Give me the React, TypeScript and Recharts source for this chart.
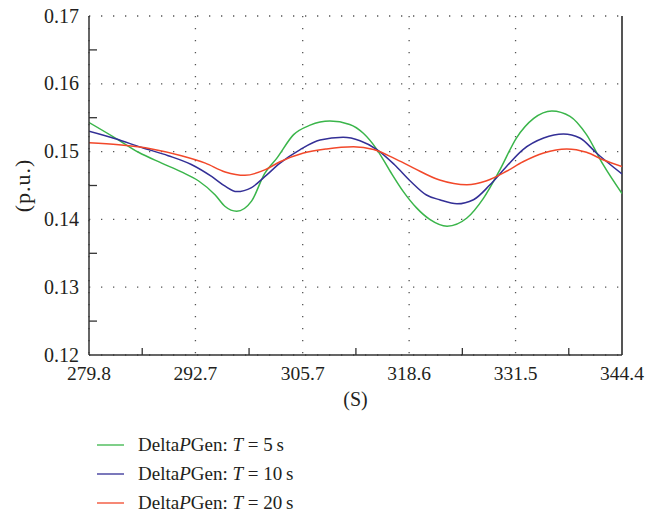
import React from 'react'
import { LineChart, Line, XAxis, YAxis, CartesianGrid, ReferenceLine, Label } from 'recharts'

// readings taken off the plot: time (s) and value (p.u.)
const timesT5 = [279.8, 283.0, 285.8, 288.6, 291.0, 293.05, 295.1, 296.3, 297.7, 299.5, 301.1, 302.55, 304.6, 306.6, 309.0, 311.4, 313.05, 314.7, 316.3, 317.9, 319.5, 321.1, 323.2, 325.6, 327.6, 329.6, 331.6, 333.7, 335.9, 338.1, 340.1, 342.1, 344.4]
const valuesT5 = [0.1543, 0.152, 0.1499, 0.1483, 0.147, 0.1457, 0.1436, 0.1419, 0.1412, 0.1427, 0.1468, 0.149, 0.1525, 0.1539, 0.1545, 0.154, 0.1527, 0.1503, 0.1471, 0.1441, 0.1417, 0.14, 0.139, 0.1402, 0.1431, 0.1473, 0.152, 0.1549, 0.156, 0.1552, 0.1525, 0.1481, 0.1438]

const timesT10 = [279.8, 283.0, 286.2, 289.4, 292.2, 294.7, 296.3, 297.7, 299.5, 301.1, 302.95, 305.4, 307.8, 310.6, 312.65, 314.7, 316.8, 318.8, 320.7, 322.3, 324.4, 326.4, 328.4, 330.4, 332.4, 334.9, 337.3, 339.3, 341.3, 344.4]
const valuesT10 = [0.153, 0.1519, 0.1506, 0.1494, 0.1481, 0.1463, 0.1449, 0.1441, 0.1447, 0.1463, 0.1483, 0.1503, 0.1517, 0.1521, 0.1516, 0.1503, 0.1481, 0.1456, 0.1436, 0.1429, 0.1423, 0.1429, 0.1451, 0.1478, 0.1503, 0.152, 0.1526, 0.152, 0.1498, 0.1467]

const timesT20 = [279.8, 283.4, 287.4, 291.0, 293.9, 296.3, 298.7, 301.1, 302.95, 305.8, 308.6, 311.85, 314.3, 316.8, 319.1, 322.3, 325.6, 328.0, 330.4, 332.4, 334.9, 337.7, 340.1, 342.1, 344.4]
const valuesT20 = [0.1513, 0.151, 0.1504, 0.1494, 0.1483, 0.147, 0.1465, 0.1473, 0.1485, 0.1498, 0.1504, 0.1507, 0.1503, 0.149, 0.1476, 0.1458, 0.1451, 0.1457, 0.1471, 0.1485, 0.1498, 0.1504, 0.1499, 0.1488, 0.1478]

const xMajorTicks = [279.8, 292.7, 305.7, 318.6, 331.5, 344.4]
const xMinorTicks = [286.25, 299.2, 312.15, 325.05, 337.95]
const yMajorTicks = [0.12, 0.13, 0.14, 0.15, 0.16, 0.17]
const yMinorTicks = [0.125, 0.135, 0.145, 0.155, 0.165]

const periods = ['5', '10', '20']
const colors = ['#3ab54a', '#332f96', '#f2482a']

const toRows = (ts: number[], vs: number[]) => ts.map((t, i) => ({ t, v: vs[i] }))
const series = [
  toRows(timesT5, valuesT5),
  toRows(timesT10, valuesT10),
  toRows(timesT20, valuesT20),
]

const FONT = '"Liberation Serif", "Times New Roman", serif'
const INK = '#231f20'
const AXIS = '#333'

const isMajor = (v: number, majors: number[]) => majors.some((m) => Math.abs(m - v) < 1e-6)

const XTick = (props: any) => {
  const { x, y, payload } = props
  if (isMajor(payload.value, xMajorTicks)) {
    return (
      <text x={x} y={y + 25} textAnchor="middle" fontFamily={FONT} fontSize={19.5} fill={INK}>
        {payload.value.toFixed(1)}
      </text>
    )
  }
  return <line x1={x} x2={x} y1={y} y2={y - 7} stroke={AXIS} strokeWidth={1.3} />
}

const YTick = (props: any) => {
  const { x, y, payload } = props
  if (isMajor(payload.value, yMajorTicks)) {
    return (
      <text x={x - 10} y={y + 6.5} textAnchor="end" fontFamily={FONT} fontSize={20} fill={INK}>
        {payload.value.toFixed(2)}
      </text>
    )
  }
  return <line x1={x} x2={x + 8} y1={y} y2={y} stroke={AXIS} strokeWidth={1.3} />
}

const YTitle = (props: any) => {
  const { viewBox } = props
  const cx = 22
  const cy = viewBox.y + viewBox.height / 2
  return (
    <text x={cx} y={cy} transform={`rotate(-90 ${cx} ${cy})`} textAnchor="middle" dominantBaseline="central" fontFamily={FONT} fontSize={22} letterSpacing={1} fill={INK}>
      (p.u.)
    </text>
  )
}

const App = () => {
  return (
    <div style={{ position: 'absolute', left: 0, top: 0, width: 659, height: 513, background: '#fff' }}>
      <LineChart width={659} height={420} margin={{ top: 16, right: 37, bottom: 0, left: 0 }}>
        <CartesianGrid
          horizontalValues={yMajorTicks}
          verticalValues={xMajorTicks}
          stroke="#555"
          strokeWidth={1.3}
          strokeDasharray="1.3 10.7"
        />
        <XAxis
          dataKey="t"
          type="number"
          domain={[279.8, 344.4]}
          ticks={[...xMajorTicks, ...xMinorTicks].sort((a, b) => a - b)}
          allowDataOverflow
          height={65}
          tickSize={0}
          tickMargin={0}
          tickLine={false}
          axisLine={{ stroke: AXIS, strokeWidth: 1.5 }}
          tick={<XTick />}
          interval={0}
        >
          <Label value="(S)" position="insideBottom" offset={14} style={{ fontFamily: FONT, fontSize: 20, fill: INK }} />
        </XAxis>
        <YAxis
          type="number"
          domain={[0.12, 0.17]}
          ticks={[...yMajorTicks, ...yMinorTicks].sort((a, b) => a - b)}
          allowDataOverflow
          width={89}
          tickSize={0}
          tickMargin={0}
          tickLine={false}
          axisLine={{ stroke: AXIS, strokeWidth: 1.5 }}
          tick={<YTick />}
          interval={0}
        >
          <Label content={<YTitle />} />
        </YAxis>
        <ReferenceLine x={344.4} stroke="#555" strokeWidth={2} />
        {series.map((rows, i) => (
          <Line
            key={periods[i]}
            data={rows}
            dataKey="v"
            type="monotone"
            stroke={colors[i]}
            strokeWidth={1.5}
            dot={false}
            isAnimationActive={false}
          />
        ))}
      </LineChart>
      <div style={{ position: 'absolute', left: 97, top: 430, fontFamily: FONT, fontSize: 19, color: INK }}>
        {periods.map((p, i) => (
          <div key={p} style={{ height: 29, display: 'flex', alignItems: 'center' }}>
            <svg width={41} height={4} style={{ display: 'block' }}>
              <line x1={0} x2={27} y1={2} y2={2} stroke={colors[i]} strokeWidth={1.3} />
            </svg>
            <span style={{ whiteSpace: 'pre' }}>
              Delta<i>P</i>Gen: <i>T</i> = {p}{'\u2009'}s
            </span>
          </div>
        ))}
      </div>
    </div>
  )
}

export default App
